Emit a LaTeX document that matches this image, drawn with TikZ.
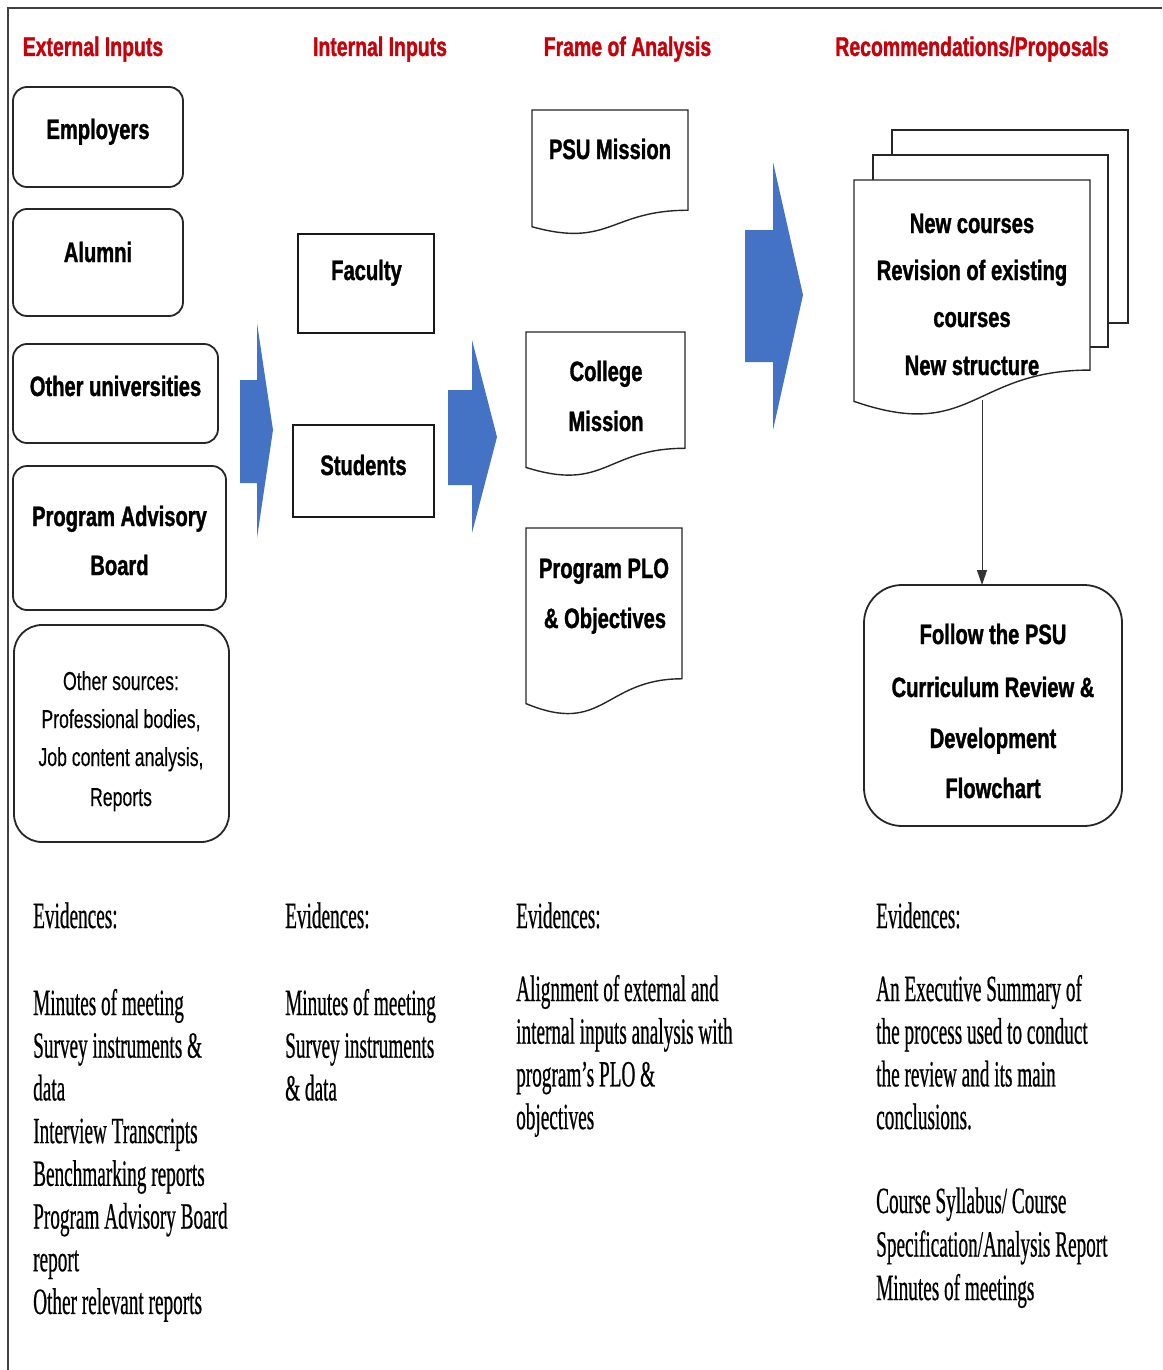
\documentclass[tikz,border=0pt]{standalone}
\usepackage{fontspec}
\setmainfont{Liberation Sans}
\newfontfamily\labfont[FakeStretch=0.72,BoldFeatures={FakeBold=1.2}]{Liberation Sans}
\newfontfamily\srcfont[FakeStretch=0.68,FakeBold=0.3]{Liberation Sans}
\newfontfamily\evfont[FakeStretch=0.52,FakeBold=0.5]{Liberation Serif}
\usetikzlibrary{arrows.meta}
\definecolor{headred}{RGB}{200,0,10}
\definecolor{flowblue}{RGB}{68,114,196}

% document symbol with a wavy lower edge: left, right, top, nominal height, name
\newcommand\docsym[5]{%
  \draw[docline] (#1,#3) -- (#2,#3) -- (#2,{#3+0.802*#4})
    .. controls ({(#1+#2)/2},{#3+0.802*#4}) and ({(#1+#2)/2},{#3+1.107*#4}) ..
    (#1,{#3+0.934*#4}) -- cycle;
  \coordinate (#5) at ({(#1+#2)/2},{#3+#4/2});}

\tikzset{
  head/.style={anchor=base, inner sep=0pt, text=headred,
    font=\labfont\bfseries\fontsize{27}{32}\selectfont},
  lab/.style={anchor=base, inner sep=0pt,
    font=\labfont\bfseries\fontsize{28}{34}\selectfont},
  srclab/.style={anchor=base, inner sep=0pt,
    font=\srcfont\fontsize{26}{30}\selectfont},
  ev/.style={anchor=base west, inner sep=0pt,
    font=\evfont\fontsize{37}{43}\selectfont},
  inbox/.style={draw=black!85, line width=1.8pt, rounded corners=14pt,
    inner sep=0pt, outer sep=0pt},
  sqbox/.style={draw=black!90, line width=1.6pt, inner sep=0pt, outer sep=0pt},
  docline/.style={draw=black!85, line width=1.4pt, fill=white},
  bigarrow/.style={fill=flowblue, draw=none},
  link/.style={draw=black!80, line width=1pt, -{Triangle[length=15pt,width=10pt]}}
}

\begin{document}
\begin{tikzpicture}[x=1pt, y={(0pt,-1pt)}]
\path[use as bounding box] (0,0) rectangle (1162,1370);

% frame lines
\draw[line width=2pt, black!75] (8,1370) -- (8,8) -- (1162,8);

% column headings
\node[head] (h1) at (93,56) {External Inputs};
\node[head] (h2) at (380,56) {Internal Inputs};
\node[head] (h3) at (627.5,56) {Frame of Analysis};
\node[head] (h4) at (972,56) {Recommendations/Proposals};

% external inputs
\node[inbox, minimum width=170pt, minimum height=100pt] (emp) at (98,137) {};
\node[inbox, minimum width=170pt, minimum height=107pt] (alu) at (98,262.5) {};
\node[inbox, minimum width=205pt, minimum height=99pt] (uni) at (115.5,393.5) {};
\node[inbox, minimum width=213pt, minimum height=144pt] (pab) at (119.5,538) {};
\node[inbox, rounded corners=28pt, minimum width=215pt, minimum height=217pt] (src) at (121.5,733.5) {};

\node[lab] (t-emp) at (98,139) {Employers};
\node[lab] (t-alu) at (98,262) {Alumni};
\node[lab] (t-uni) at (115.5,396) {Other universities};
\node[lab] (t-pab1) at (119.5,526) {Program Advisory};
\node[lab] (t-pab2) at (119.5,575) {Board};
\node[srclab] (t-src1) at (121,690) {Other sources:};
\node[srclab] (t-src2) at (121,728) {Professional bodies,};
\node[srclab] (t-src3) at (121,766) {Job content analysis,};
\node[srclab] (t-src4) at (121,806) {Reports};

% internal inputs
\node[sqbox, minimum width=136pt, minimum height=99pt] (fac) at (366,283.5) {};
\node[sqbox, minimum width=141pt, minimum height=92pt] (stu) at (363.5,471) {};
\node[lab] (t-fac) at (366.5,280) {Faculty};
\node[lab] (t-stu) at (363.5,475) {Students};

% block arrows between the columns
\fill[bigarrow] (240,380) -- (257,380) -- (257,323) -- (273,430) -- (257,538) -- (257,483) -- (240,483) -- cycle;
\fill[bigarrow] (448,390) -- (472,390) -- (472,340) -- (497,437) -- (472,533) -- (472,485) -- (448,485) -- cycle;
\fill[bigarrow] (745,230) -- (773,230) -- (773,162) -- (803,295) -- (773,430) -- (773,362) -- (745,362) -- cycle;

% frame of analysis documents
\docsym{532}{688}{110}{125}{psu}
\docsym{526}{685}{332}{145}{col}
\docsym{526}{682}{528}{188}{plo}
\node[lab] (t-psu) at (610,159) {PSU Mission};
\node[lab] (t-col1) at (606,381) {College};
\node[lab] (t-col2) at (606,431) {Mission};
\node[lab] (t-plo1) at (604,578) {Program PLO};
\node[lab] (t-plo2) at (605,628) {\& Objectives};

% recommendations: stacked documents
\draw[docline] (892,130) rectangle (1128,323);
\draw[docline] (873,155) rectangle (1108,347);
\docsym{854}{1090}{180}{237}{recs}
\coordinate (recbot) at (982,400);
\node[lab] (t-r1) at (972,233) {New courses};
\node[lab] (t-r2) at (972,280) {Revision of existing};
\node[lab] (t-r3) at (972,327) {courses};
\node[lab] (t-r4) at (972,375) {New structure};

% follow-up step
\node[inbox, rounded corners=38pt, minimum width=258pt, minimum height=241pt] (follow) at (993,705.5) {};
\node[lab] (t-f1) at (993,644) {Follow the PSU};
\node[lab] (t-f2) at (993,697) {Curriculum Review \&};
\node[lab] (t-f3) at (993,748) {Development};
\node[lab] (t-f4) at (993,798) {Flowchart};

\draw[link] (recbot) -- (recbot |- follow.north);

% evidences
\node[ev] (evh1) at (33,928) {Evidences:};
\node[ev] (evh2) at (285,928) {Evidences:};
\node[ev] (evh3) at (516,928) {Evidences:};
\node[ev] (evh4) at (876,928) {Evidences:};

\foreach \t [count=\i] in {Minutes of meeting, Survey instruments \&, data,
  Interview Transcripts, Benchmarking reports, Program Advisory Board, report,
  Other relevant reports}
  \node[ev, name=evA\i] at (33,{1015+42.7*(\i-1)}) {\t};

\foreach \t [count=\i] in {Minutes of meeting, Survey instruments, \& data}
  \node[ev, name=evB\i] at (285,{1015+42.7*(\i-1)}) {\t};

\foreach \t [count=\i] in {Alignment of external and, internal inputs analysis with,
  program’s PLO \&, objectives}
  \node[ev, name=evC\i] at (516,{1001+42.7*(\i-1)}) {\t};

\foreach \t [count=\i] in {An Executive Summary of, the process used to conduct,
  the review and its main, conclusions.}
  \node[ev, name=evD\i] at (876,{1001+42.7*(\i-1)}) {\t};

\foreach \t [count=\i] in {Course Syllabus/ Course, Specification/Analysis Report,
  Minutes of meetings}
  \node[ev, name=evE\i] at (876,{1213+43.5*(\i-1)}) {\t};
\end{tikzpicture}
\end{document}
